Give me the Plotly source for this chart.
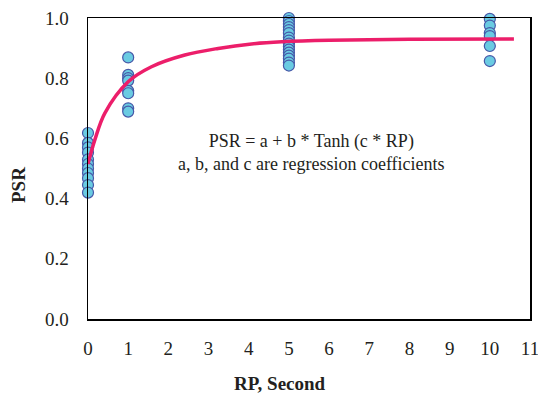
import plotly.graph_objects as go

rp_0 = [0, 0, 0, 0, 0, 0, 0, 0, 0, 0, 0]
psr_0 = [0.618, 0.585, 0.57, 0.553, 0.53, 0.515, 0.50, 0.485, 0.468, 0.445, 0.42]

rp_1 = [1, 1, 1, 1, 1, 1, 1, 1]
psr_1 = [0.869, 0.811, 0.80, 0.792, 0.758, 0.750, 0.700, 0.689]

rp_5 = [5] * 16
psr_5 = [1.00, 0.99, 0.98, 0.97, 0.96, 0.95, 0.935, 0.925, 0.915, 0.905,
         0.895, 0.885, 0.875, 0.865, 0.852, 0.842]

rp_10 = [10, 10, 10, 10, 10, 10]
psr_10 = [0.997, 0.975, 0.95, 0.94, 0.907, 0.857]

# Fitted curve
curve_rp = [0.0, 0.17, 0.42, 1.0, 1.58, 2.41, 3.24, 4.07, 4.82, 6.0, 8.0, 10.6]
curve_psr = [0.515, 0.595, 0.684, 0.788, 0.838, 0.877, 0.899, 0.914, 0.921, 0.926, 0.929, 0.930]

x_ticks = list(range(0, 12))
y_ticks = [0.0, 0.2, 0.4, 0.6, 0.8, 1.0]
y_tick_labels = ["0.0", "0.2", "0.4", "0.6", "0.8", "1.0"]

font_family = "Liberation Serif, Times New Roman, serif"
txt_color = "#231F20"

fig = go.Figure()

all_x = rp_0 + rp_1 + rp_5 + rp_10
all_y = psr_0 + psr_1 + psr_5 + psr_10
fig.add_trace(go.Scatter(
    x=all_x, y=all_y, mode="markers",
    marker=dict(size=11, color="#6ACBE2", line=dict(color="#4658A8", width=1.2)),
    showlegend=False, cliponaxis=False,
))

fig.add_trace(go.Scatter(
    x=curve_rp, y=curve_psr, mode="lines",
    line=dict(color="#EC1E6A", width=3.5, shape="spline", smoothing=1.0),
    showlegend=False, cliponaxis=False,
))

fig.add_annotation(
    x=5.57, y=0.553, xref="x", yref="y", xanchor="center", yanchor="middle",
    text="PSR = a + b * Tanh (c * RP)<br>a, b, and c are regression coefficients",
    showarrow=False, align="center",
    font=dict(family=font_family, size=18, color=txt_color),
)

# axis titles (placed as in the reference, not centred on the axes)
fig.add_annotation(
    xref="x", x=(280 - 88) / 40.18, yref="paper", y=-(383 - 319) / 301,
    xanchor="center", yanchor="middle",
    text="<b>RP, Second</b>", showarrow=False,
    font=dict(family=font_family, size=19, color=txt_color),
)
fig.add_annotation(
    xref="paper", x=-(88 - 18) / 442, yref="y", y=(319 - 185) / 301,
    xanchor="center", yanchor="middle",
    text="<b>PSR</b>", textangle=-90, showarrow=False,
    font=dict(family=font_family, size=19, color=txt_color),
)

fig.update_layout(
    width=538, height=398,
    margin=dict(l=88, r=8, t=18, b=79),
    paper_bgcolor="white", plot_bgcolor="white",
    font=dict(family=font_family, size=16, color=txt_color),
    xaxis=dict(
        range=[0, 11], tickvals=x_ticks, showgrid=False, zeroline=False,
        showline=True, linecolor="black", linewidth=1.5, mirror=True,
        ticks="", ticklabelstandoff=12, automargin=False, ticklabeloverflow="allow",
        tickfont=dict(family=font_family, size=19, color=txt_color),
    ),
    yaxis=dict(
        range=[0, 1.0], tickvals=y_ticks, ticktext=y_tick_labels,
        showgrid=False, zeroline=False,
        showline=True, linecolor="black", linewidth=1.5, mirror=True,
        ticks="", ticklabelstandoff=14, automargin=False, ticklabeloverflow="allow",
        tickfont=dict(family=font_family, size=19, color=txt_color),
    ),
)

# remove the browser's default 8px body margin so the figure fills the window
fig.write_html(
    "out.html",
    config={"displayModeBar": False, "staticPlot": True},
    post_script="document.body.style.margin='0';document.body.style.overflow='hidden';",
)
